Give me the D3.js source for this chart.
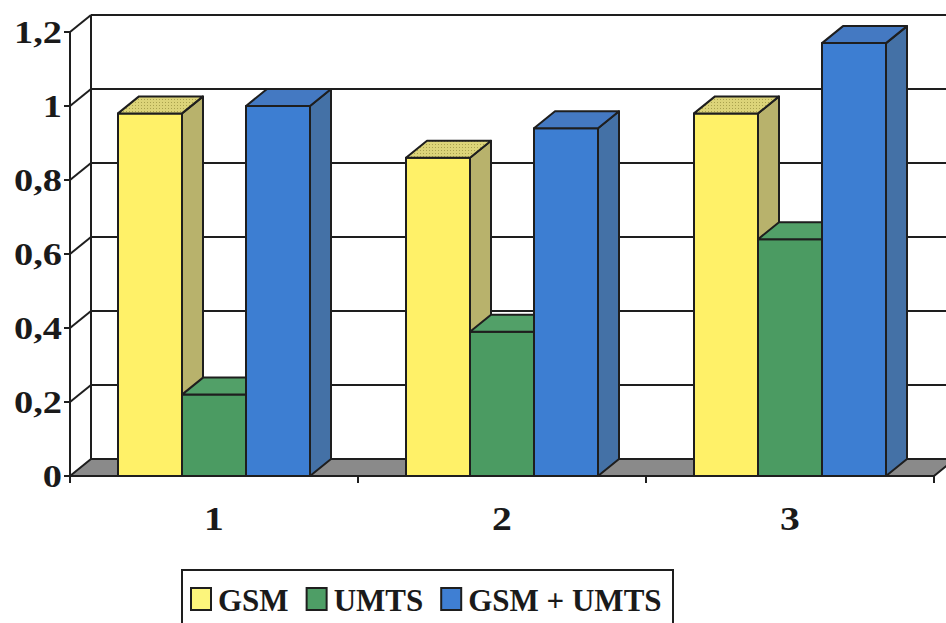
<!DOCTYPE html>
<html>
<head>
<meta charset="utf-8">
<script src="https://cdn.jsdelivr.net/npm/d3@7"></script>
<style>
  html, body { margin: 0; padding: 0; background: #fff; }
  svg { display: block; }
  text { font-family: "Liberation Serif", "Times New Roman", serif; font-weight: bold; fill: #1a1a1a; }
</style>
</head>
<body>
<svg id="chart" width="946" height="623"></svg>
<script>
// Data
const categories = ["1", "2", "3"];
const seriesNames = ["GSM", "UMTS", "GSM + UMTS"];
const gsmValues = [0.98, 0.86, 0.98];
const umtsValues = [0.22, 0.39, 0.64];
const gsmUmtsValues = [1.0, 0.94, 1.17];
const yTickValues = [0, 0.2, 0.4, 0.6, 0.8, 1.0, 1.2];
const yTickLabels = ["0", "0,2", "0,4", "0,6", "0,8", "1", "1,2"];

const seriesValues = [gsmValues, umtsValues, gsmUmtsValues];

// Styles
const faceColors = [
  { front: "#FFF168", side: "#B8B26C", top: "#DCD479" },
  { front: "#4B9B62", side: "#3E7F51", top: "#52A068" },
  { front: "#3D7ED2", side: "#4471A6", top: "#4479C2" }
];
const swatchColors = ["#FCF57C", "#4E9E66", "#3F7FD3"];
const strokeCol = "#1e1e1e";

// 3D depth offset
const dx = 21, dy = 17;

const svg = d3.select("#chart");
const defs = svg.append("defs");
const pat = defs.append("pattern")
  .attr("id", "dots").attr("width", 3).attr("height", 3)
  .attr("patternUnits", "userSpaceOnUse");
pat.append("rect").attr("width", 3).attr("height", 3).attr("fill", faceColors[0].top);
pat.append("rect").attr("width", 1).attr("height", 1).attr("fill", "#A9A24E");

const x = d3.scaleBand().domain(categories).range([70, 934]).paddingInner(0).paddingOuter(0);
const xs = d3.scaleBand().domain(seriesNames).range([0, x.bandwidth()]).paddingInner(0).paddingOuter(0.75);
const y = d3.scaleLinear().domain([0, 1.2]).range([476, 32]);

const x0 = x.range()[0], x1 = x.range()[1];
const yBase = y(0), yTop = y(1.2);

// Floor
svg.append("polygon")
  .attr("points", [[x0, yBase], [x0 + dx, yBase - dy], [x1 + dx, yBase - dy], [x1, yBase]].join(" "))
  .attr("fill", "#8A8A8A").attr("stroke", strokeCol).attr("stroke-width", 2);

// Back wall gridlines
const grid = svg.append("g");
yTickValues.filter(v => v > 0).forEach(v => {
  grid.append("line")
    .attr("x1", x0 + dx).attr("x2", 960)
    .attr("y1", y(v) - dy).attr("y2", y(v) - dy)
    .attr("stroke", strokeCol).attr("stroke-width", 2);
  // side wall diagonal
  grid.append("line")
    .attr("x1", x0).attr("y1", y(v))
    .attr("x2", x0 + dx).attr("y2", y(v) - dy)
    .attr("stroke", strokeCol).attr("stroke-width", 2);
});
// Back wall left edge
grid.append("line")
  .attr("x1", x0 + dx).attr("x2", x0 + dx)
  .attr("y1", yTop - dy).attr("y2", yBase - dy)
  .attr("stroke", strokeCol).attr("stroke-width", 2);

// Bars
const bars = svg.append("g").attr("stroke", strokeCol).attr("stroke-width", 2).attr("stroke-linejoin", "round");
categories.forEach((c, ci) => {
  seriesNames.forEach((s, si) => {
    const v = seriesValues[si][ci];
    const bx = x(c) + xs(s);
    const w = xs.bandwidth();
    const yt = y(v);
    const col = faceColors[si];
    bars.append("rect")
      .attr("x", bx).attr("y", yt).attr("width", w).attr("height", yBase - yt)
      .attr("fill", col.front);
    bars.append("polygon")
      .attr("points", [[bx + w, yBase], [bx + w + dx, yBase - dy], [bx + w + dx, yt - dy], [bx + w, yt]].join(" "))
      .attr("fill", col.side);
    bars.append("polygon")
      .attr("points", [[bx, yt], [bx + dx, yt - dy], [bx + w + dx, yt - dy], [bx + w, yt]].join(" "))
      .attr("fill", si === 0 ? "url(#dots)" : col.top);
  });
});

// Front value axis
const yAxis = svg.append("g");
yAxis.append("line")
  .attr("x1", x0).attr("x2", x0).attr("y1", yTop).attr("y2", yBase + 6)
  .attr("stroke", strokeCol).attr("stroke-width", 2);
yTickValues.forEach((v, i) => {
  yAxis.append("line")
    .attr("x1", x0 - 6).attr("x2", x0).attr("y1", y(v)).attr("y2", y(v))
    .attr("stroke", strokeCol).attr("stroke-width", 2);
  yAxis.append("text")
    .attr("transform", `translate(${x0 - 8},${y(v) + 11}) scale(1.2,1)`)
    .attr("text-anchor", "end")
    .attr("font-size", 32)
    .text(yTickLabels[i]);
});

// Category axis
const xAxis = svg.append("g");
xAxis.append("line")
  .attr("x1", x0).attr("x2", x1).attr("y1", yBase).attr("y2", yBase)
  .attr("stroke", strokeCol).attr("stroke-width", 2);
[x0, ...categories.map(c => x(c) + x.bandwidth())].forEach(t => {
  xAxis.append("line")
    .attr("x1", t).attr("x2", t).attr("y1", yBase).attr("y2", yBase + 7)
    .attr("stroke", strokeCol).attr("stroke-width", 2);
});
categories.forEach(c => {
  xAxis.append("text")
    .attr("transform", `translate(${x(c) + x.bandwidth() / 2},530) scale(1.2,1)`)
    .attr("text-anchor", "middle")
    .attr("font-size", 33)
    .text(c);
});

// Legend
const legend = svg.append("g");
legend.append("rect")
  .attr("x", 182).attr("y", 570).attr("width", 491).attr("height", 80)
  .attr("fill", "#fff").attr("stroke", strokeCol).attr("stroke-width", 2);
let lx = 191;
seriesNames.forEach((s, i) => {
  legend.append("rect")
    .attr("x", lx).attr("y", 588).attr("width", 20).attr("height", 22)
    .attr("fill", swatchColors[i]).attr("stroke", strokeCol).attr("stroke-width", 2);
  const t = legend.append("text")
    .attr("x", lx + 27).attr("y", 611)
    .attr("font-size", 31)
    .text(s);
  lx += 27 + t.node().getComputedTextLength() + 18;
});
</script>
</body>
</html>
